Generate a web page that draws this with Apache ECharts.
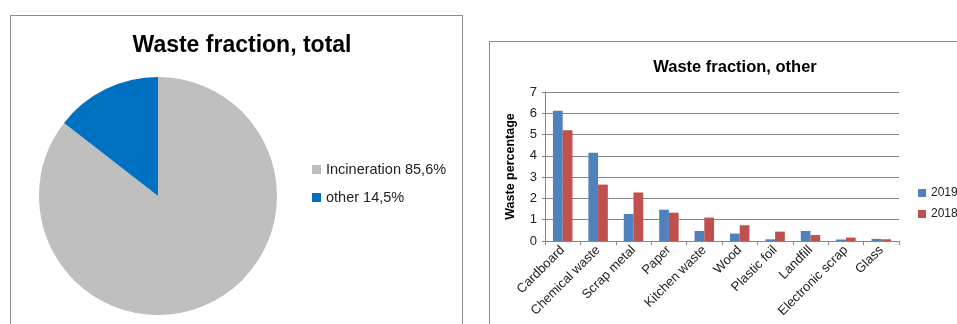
<!DOCTYPE html>
<html>
<head>
<meta charset="utf-8">
<script src="https://cdn.jsdelivr.net/npm/echarts@6/dist/echarts.min.js"></script>
<style>
	body{ margin:0; background:#fff; width:957px; height:324px; overflow:hidden; position:relative; }
	.box{ position:absolute; border:1px solid #8c8c8c; background:#fff; }
	#pie{ left:10px; top:15px; width:451px; height:330px; }
	#bars{ left:489px; top:41px; width:480px; height:300px; }
</style>
</head>
<body>
<div id="pie" class="box"></div>
<div id="bars" class="box"></div>
<script type="text/javascript">
	// 饼图数据
	var pieNames = ['Incineration', 'other'];
	var pieValues = [85.6, 14.5];
	var pieColors = ['#BFBFBF', '#0070C0'];

	// 柱状图数据
	var categories = ['Cardboard', 'Chemical waste', 'Scrap metal', 'Paper', 'Kitchen waste', 'Wood', 'Plastic foil', 'Landfill', 'Electronic scrap', 'Glass'];
	var values2019 = [6.12, 4.15, 1.27, 1.47, 0.47, 0.35, 0.08, 0.47, 0.07, 0.1];
	var values2018 = [5.2, 2.65, 2.28, 1.33, 1.1, 0.74, 0.44, 0.28, 0.16, 0.08];
	var yTicks = [0, 1, 2, 3, 4, 5, 6, 7];

	var font = '"Liberation Sans", Arial, sans-serif';

	var pieChart = echarts.init(document.getElementById('pie'));
	pieChart.setOption({
		animation: false,
		title: {
			text: 'Waste fraction, total',
			left: 226, top: 13, textAlign: 'center',
			textStyle: { fontFamily: font, fontSize: 23, fontWeight: 'bold', color: '#000' }
		},
		legend: {
			orient: 'vertical',
			left: 296, top: 141,
			itemWidth: 9, itemHeight: 9, itemGap: 13,
			icon: 'rect',
			textStyle: { fontFamily: font, fontSize: 14.5, color: '#222' },
			formatter: function (name) {
				var i = pieNames.indexOf(name);
				return name + ' ' + String(pieValues[i]).replace('.', ',') + '%';
			}
		},
		series: [{
			type: 'pie',
			center: [147, 180],
			radius: 119,
			startAngle: 90,
			clockwise: true,
			label: { show: false },
			labelLine: { show: false },
			silent: true,
			data: pieNames.map(function (n, i) {
				return { name: n, value: pieValues[i], itemStyle: { color: pieColors[i] } };
			})
		}]
	});

	var barChart = echarts.init(document.getElementById('bars'));
	barChart.setOption({
		animation: false,
		title: {
			text: 'Waste fraction, other',
			left: 240, top: 12, textAlign: 'center',
			textStyle: { fontFamily: font, fontSize: 16.5, fontWeight: 'bold', color: '#000' }
		},
		legend: {
			orient: 'vertical',
			left: 423, top: 140,
			itemWidth: 8, itemHeight: 8, itemGap: 9,
			icon: 'rect',
			data: ['2019', '2018'],
			textStyle: { fontFamily: font, fontSize: 12, color: '#222' }
		},
		grid: { left: 55, top: 50, width: 354, height: 149 },
		xAxis: {
			type: 'category',
			data: categories,
			axisLine: { lineStyle: { color: '#868686' } },
			axisTick: { show: true, length: 4, lineStyle: { color: '#868686' } },
			axisLabel: { rotate: 45, fontFamily: font, fontSize: 13, color: '#222', margin: 7, interval: 0 }
		},
		yAxis: {
			type: 'value',
			min: yTicks[0], max: yTicks[yTicks.length - 1], interval: 1,
			name: 'Waste percentage',
			nameLocation: 'middle',
			nameGap: 28,
			nameTextStyle: { fontFamily: font, fontSize: 12.5, fontWeight: 'bold', color: '#000' },
			axisLine: { show: true, lineStyle: { color: '#868686' } },
			axisTick: { show: true, length: 3, lineStyle: { color: '#868686' } },
			axisLabel: { fontFamily: font, fontSize: 13, color: '#222', margin: 8 },
			splitLine: { lineStyle: { color: '#868686', width: 1 } }
		},
		series: [
			{ name: '2019', type: 'bar', data: values2019, barGap: '0%', barCategoryGap: '45%', itemStyle: { color: '#4F81BD' } },
			{ name: '2018', type: 'bar', data: values2018, barGap: '0%', barCategoryGap: '45%', itemStyle: { color: '#C0504D' } }
		]
	});
</script>
</body>
</html>
